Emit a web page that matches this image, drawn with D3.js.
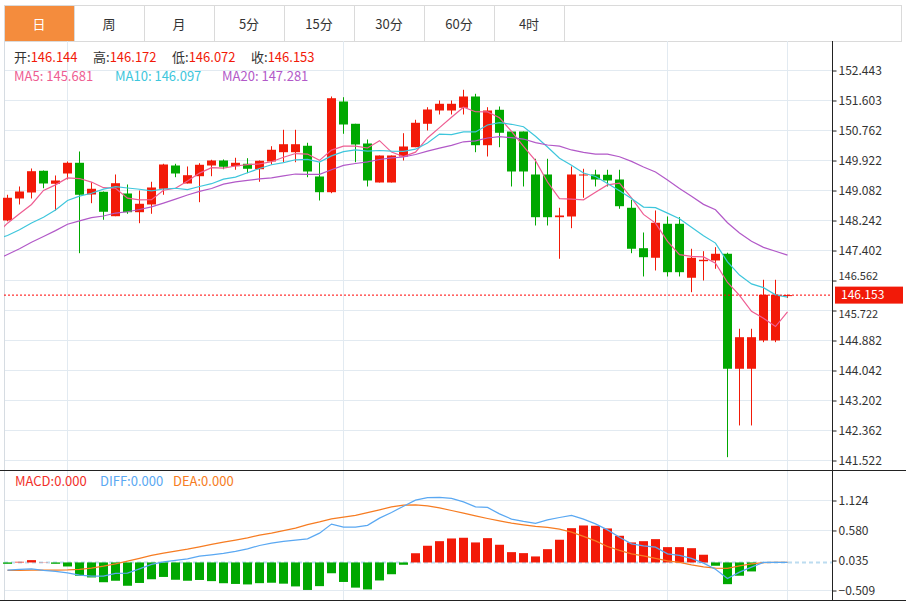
<!DOCTYPE html>
<html>
<head>
<meta charset="utf-8">
<script src="https://cdn.jsdelivr.net/npm/d3@7"></script>
<style>
  body { margin: 0; background: #fff; }
  svg { display: block; font-family: "Noto Sans CJK SC", "Noto Sans", sans-serif; }
</style>
</head>
<body>
<div id="chart"></div>
<script>
var tabs = ["日", "周", "月", "5分", "15分", "30分", "60分", "4时"];

// closes before the visible window (only feed the moving averages at the left edge)
var priorCloses = [145.70, 145.85, 145.95, 146.05, 146.12, 146.25, 147.10, 147.35, 147.55, 147.62,
                   147.75, 147.45, 147.72, 147.67, 147.36, 147.20, 147.74, 148.32, 147.32, 148.58];

var opens = [148.243, 148.859, 149.027, 149.635, 149.271, 149.559, 149.859, 148.971, 149.047, 148.363,
             148.999, 148.475, 148.691, 149.131, 149.783, 149.279, 149.483, 149.783, 149.923, 149.763,
             149.831, 149.679, 149.895, 150.155, 150.155, 150.335, 149.475, 149.035, 151.575, 150.951,
             150.399, 149.307, 149.307, 150.035, 150.295, 150.951, 151.323, 151.323, 151.399, 151.715,
             150.351, 151.343, 150.735, 150.735, 149.531, 149.531, 148.335, 148.355, 149.503, 149.531,
             149.523, 149.391, 148.599, 147.467, 147.199, 148.151, 148.151, 146.639, 147.103, 147.123,
             147.311, 144.091, 144.091, 144.883, 144.883, 146.144];
var highs = [148.963, 149.195, 149.699, 149.643, 149.503, 149.895, 150.175, 149.315, 149.055, 149.531,
             149.251, 149.083, 149.327, 149.831, 149.831, 149.755, 149.847, 149.943, 149.951, 149.999,
             149.987, 149.923, 150.323, 150.783, 150.783, 150.419, 149.875, 151.715, 151.695, 150.951,
             150.511, 150.063, 150.063, 150.687, 151.063, 151.415, 151.603, 151.603, 151.903, 151.791,
             151.415, 151.435, 150.735, 150.735, 149.971, 149.971, 148.599, 149.755, 149.691, 149.663,
             149.663, 149.663, 148.823, 147.907, 148.523, 148.355, 148.335, 147.451, 147.383, 147.495,
             147.340, 145.211, 145.211, 146.583, 146.583, 146.172];
var lows = [148.220, 148.691, 148.859, 149.147, 148.523, 149.391, 147.327, 148.727, 148.263, 148.363,
            148.431, 148.167, 148.431, 148.963, 149.455, 149.279, 148.755, 149.483, 149.679, 149.663,
            149.567, 149.327, 149.811, 149.875, 149.875, 149.455, 148.803, 149.007, 150.671, 149.875,
            149.195, 149.307, 149.307, 149.923, 150.295, 150.763, 151.211, 151.211, 151.211, 150.155,
            150.035, 150.295, 149.195, 149.195, 148.103, 148.103, 147.171, 148.027, 148.879, 149.195,
            149.195, 148.571, 147.327, 146.675, 146.843, 146.675, 146.675, 146.235, 146.563, 146.891,
            141.615, 142.503, 142.503, 144.835, 144.835, 146.072];
var closes = [148.879, 149.055, 149.623, 149.279, 149.363, 149.859, 148.963, 149.131, 148.487, 149.287,
              148.475, 148.711, 149.167, 149.811, 149.559, 149.511, 149.803, 149.923, 149.747, 149.859,
              149.691, 149.915, 150.223, 150.379, 150.379, 149.615, 149.035, 151.667, 150.931, 150.371,
              149.363, 150.063, 150.063, 150.315, 150.979, 151.351, 151.511, 151.511, 151.715, 150.351,
              151.323, 150.699, 149.615, 149.615, 148.335, 148.335, 148.383, 149.531, 149.531, 149.391,
              149.363, 148.643, 147.451, 147.215, 148.179, 146.795, 146.795, 147.199, 147.143, 147.311,
              144.091, 144.975, 144.975, 146.163, 146.163, 146.153];

var diff = [-0.140, -0.127, -0.116, -0.145, -0.163, -0.189, -0.230, -0.249, -0.249, -0.200,
            -0.194, -0.116, -0.036, 0.011, 0.036, 0.065, 0.114, 0.138, 0.163, 0.200,
            0.247, 0.308, 0.350, 0.381, 0.405, 0.428, 0.532, 0.695, 0.640, 0.640,
            0.673, 0.804, 0.907, 1.021, 1.130, 1.176, 1.181, 1.161, 1.099, 1.009,
            0.998, 0.882, 0.786, 0.744, 0.708, 0.773, 0.816, 0.853, 0.786, 0.700,
            0.591, 0.459, 0.337, 0.301, 0.278, 0.156, 0.127, 0.073, -0.013, -0.122,
            -0.290, -0.176, -0.085, 0, 0, 0];
var dea = [-0.145, -0.143, -0.140, -0.140, -0.140, -0.136, -0.127, -0.103, -0.067, -0.025,
           0.024, 0.073, 0.127, 0.169, 0.205, 0.241, 0.283, 0.327, 0.368, 0.405,
           0.446, 0.495, 0.532, 0.577, 0.622, 0.686, 0.735, 0.791, 0.822, 0.853,
           0.904, 0.954, 1.009, 1.040, 1.045, 1.025, 0.991, 0.943, 0.894, 0.845,
           0.798, 0.755, 0.713, 0.682, 0.653, 0.635, 0.604, 0.550, 0.472, 0.392,
           0.290, 0.218, 0.156, 0.120, 0.073, 0.029, 0, -0.044, -0.080, -0.103,
           -0.109, -0.062, -0.025, -0.004, 0, 0];
var macd = [-0.024, 0.012, 0.042, 0.004, -0.024, -0.073, -0.241, -0.272, -0.359, -0.332,
            -0.423, -0.372, -0.305, -0.263, -0.314, -0.332, -0.318, -0.339, -0.377, -0.390,
            -0.399, -0.376, -0.368, -0.385, -0.435, -0.499, -0.430, -0.196, -0.354, -0.457,
            -0.490, -0.327, -0.214, -0.042, 0.167, 0.303, 0.386, 0.435, 0.448, 0.363,
            0.441, 0.321, 0.187, 0.169, 0.109, 0.241, 0.412, 0.622, 0.671, 0.666,
            0.617, 0.484, 0.363, 0.386, 0.423, 0.278, 0.278, 0.259, 0.140, -0.060,
            -0.394, -0.241, -0.163, 0, 0, 0];

var priceTicks = [152.443, 151.603, 150.762, 149.922, 149.082, 148.242, 147.402,
                  146.562, 145.722, 144.882, 144.042, 143.202, 142.362, 141.522];
var macdTicks = [1.124, 0.580, 0.035, -0.509];
var gridIdx = [5, 28, 55, 65];
var maPeriods = [5, 10, 20];
var maLegend = ["145.681", "146.097", "147.281"];
var macdLegend = ["0.000", "0.000", "0.000"];

var W = 906, H = 602;
var plotL = 4, plotR = 833, plotT = 41, split = 470, plotB = 600;
var RED = "#f21a08", GREEN = "#00a800", GRID = "#e2eaf1";
var maColors = ["#ee5d92", "#3ec6dc", "#b259c8"];
var f3 = d3.format(".3f");
var n = closes.length;

var svg = d3.select("#chart").append("svg")
    .attr("width", W)
    .attr("height", H);

// tab bar
var tab = svg.append("g");
tab.selectAll("rect").data(tabs).enter().append("rect")
    .attr("x", function (d, i) { return 4.5 + i * 70; })
    .attr("y", 5.5)
    .attr("width", 70)
    .attr("height", 36)
    .attr("fill", function (d, i) { return i == 0 ? "#f48c3d" : "#fff"; })
    .attr("stroke", "#dadada");
tab.append("rect")
    .attr("x", 4.5).attr("y", 5.5).attr("width", 897).attr("height", 36)
    .attr("fill", "none").attr("stroke", "#dadada");
tab.selectAll("text").data(tabs).enter().append("text")
    .attr("x", function (d, i) { return 4 + i * 70 + 35; })
    .attr("y", 28.5)
    .attr("text-anchor", "middle")
    .attr("font-size", 13)
    .attr("fill", function (d, i) { return i == 0 ? "#fff" : "#333"; })
    .text(function (d) { return d; });

var x = d3.scaleLinear().domain([0, n - 1]).range([7.5, 787.5]);
var y = d3.scaleLinear().domain([141.522, 152.443]).range([460.5, 70.5]);
var yM = d3.scaleLinear().domain([-0.509, 1.124]).range([590.5, 500.5]);
var bw = 9;

function crisp(v) { return Math.round(v - 0.5) + 0.5; }

// grids
var grid = svg.append("g").attr("stroke", GRID).attr("stroke-width", 1);
priceTicks.forEach(function (t) {
  grid.append("line").attr("x1", plotL).attr("x2", plotR)
      .attr("y1", crisp(y(t))).attr("y2", crisp(y(t)));
});
macdTicks.forEach(function (t) {
  if (t == 0.035) return;
  grid.append("line").attr("x1", plotL).attr("x2", plotR)
      .attr("y1", crisp(yM(t))).attr("y2", crisp(yM(t)));
});
gridIdx.forEach(function (i) {
  grid.append("line").attr("x1", x(i)).attr("x2", x(i))
      .attr("y1", plotT).attr("y2", plotB);
});
svg.append("line").attr("x1", 4.5).attr("x2", 4.5).attr("y1", plotT).attr("y2", plotB)
    .attr("stroke", "#d6dce2");

svg.append("defs").append("clipPath").attr("id", "plot")
  .append("rect").attr("x", plotL).attr("y", plotT)
  .attr("width", plotR - plotL).attr("height", split - plotT);

// candles
var candle = svg.append("g").selectAll("g").data(closes).enter().append("g")
    .attr("fill", function (d, i) { return d >= opens[i] ? RED : GREEN; })
    .attr("stroke", function (d, i) { return d >= opens[i] ? RED : GREEN; });
candle.append("line")
    .attr("x1", function (d, i) { return x(i); })
    .attr("x2", function (d, i) { return x(i); })
    .attr("y1", function (d, i) { return y(highs[i]); })
    .attr("y2", function (d, i) { return y(lows[i]); });
candle.append("rect")
    .attr("stroke", "none")
    .attr("x", function (d, i) { return x(i) - bw / 2; })
    .attr("width", bw)
    .attr("y", function (d, i) { return y(Math.max(d, opens[i])); })
    .attr("height", function (d, i) { return Math.max(1, Math.abs(y(d) - y(opens[i]))); });

// moving averages
var all = priorCloses.concat(closes);
var off = priorCloses.length;
var maLine = d3.line().x(function (d) { return x(d.i); }).y(function (d) { return y(d.v); });
maPeriods.forEach(function (p, k) {
  var pts = d3.range(-1, n).map(function (i) {
    var e = i + off + 1;
    return { i: i, v: d3.mean(all.slice(e - p, e)) };
  });
  svg.append("path").datum(pts)
      .attr("clip-path", "url(#plot)")
      .attr("fill", "none")
      .attr("stroke", maColors[k])
      .attr("stroke-width", 1.2)
      .attr("d", maLine);
});

// current price line
var last = closes[n - 1];
svg.append("line")
    .attr("x1", plotL).attr("x2", plotR)
    .attr("y1", y(last)).attr("y2", y(last))
    .attr("stroke", "#f00").attr("stroke-dasharray", "2,2");

// MACD panel
svg.append("line").attr("x1", plotL).attr("x2", plotR)
    .attr("y1", yM(0)).attr("y2", yM(0))
    .attr("stroke", "#bcdcf0").attr("stroke-width", 2).attr("stroke-dasharray", "4,3");
svg.append("g").selectAll("rect").data(macd).enter().append("rect")
    .attr("x", function (d, i) { return x(i) - bw / 2; })
    .attr("width", bw)
    .attr("y", function (d) { return d >= 0 ? yM(d) : yM(0); })
    .attr("height", function (d) { return Math.abs(yM(d) - yM(0)); })
    .attr("fill", function (d) { return d >= 0 ? RED : GREEN; });
var lineM = d3.line().x(function (d, i) { return x(i); }).y(function (d) { return yM(d); });
svg.append("path").datum(dea).attr("fill", "none").attr("stroke", "#f67c22")
    .attr("stroke-width", 1.2).attr("d", lineM);
svg.append("path").datum(diff).attr("fill", "none").attr("stroke", "#5aa8f2")
    .attr("stroke-width", 1.2).attr("d", lineM);

// frame lines
svg.append("line").attr("x1", 0).attr("x2", W).attr("y1", 470.5).attr("y2", 470.5).attr("stroke", "#222");
svg.append("line").attr("x1", 0).attr("x2", W).attr("y1", 600.5).attr("y2", 600.5).attr("stroke", "#222");
svg.append("line").attr("x1", 832.5).attr("x2", 832.5).attr("y1", plotT).attr("y2", plotB).attr("stroke", "#222");

// axes
var axP = svg.append("g").attr("transform", "translate(832.5,0)")
    .call(d3.axisRight(y).tickValues(priceTicks).tickSize(4).tickFormat(f3));
var axM = svg.append("g").attr("transform", "translate(832.5,0)")
    .call(d3.axisRight(yM).tickValues(macdTicks).tickSize(4).tickFormat(f3));
[axP, axM].forEach(function (a) {
  a.select(".domain").remove();
  a.selectAll("line").attr("stroke", "#222");
  a.selectAll("text").attr("font-size", 12).attr("fill", "#333").attr("x", 6)
      .attr("font-family", "'Noto Sans CJK SC', sans-serif");
});

// last price tag; the two labels next to it are nudged so they stay readable
var last_y = y(last);
axP.selectAll(".tick").filter(function (d) { return Math.abs(y(d) - last_y) < 18; })
    .select("text")
    .attr("font-size", 11)
    .attr("dy", function (d) { return y(d) < last_y ? "-0.05em" : "0.6em"; });
var tag = svg.append("g").attr("transform", "translate(835," + last_y + ")");
tag.append("rect").attr("x", 0).attr("y", -8.5).attr("width", 68).attr("height", 17).attr("fill", "#f21a08");
tag.append("text").attr("x", 6).attr("y", 4).attr("font-size", 12).attr("fill", "#fff").text(f3(last));

// legends
var ohlc = [["开", opens[n - 1], 14], ["高", highs[n - 1], 93], ["低", lows[n - 1], 172], ["收", closes[n - 1], 251]];
ohlc.forEach(function (d) {
  var t = svg.append("text").attr("x", d[2]).attr("y", 62).attr("font-size", 13);
  t.append("tspan").attr("fill", "#333").text(d[0] + ":");
  t.append("tspan").attr("fill", "#f21a08").text(f3(d[1]));
});
var maX = [14, 115, 222];
maPeriods.forEach(function (p, k) {
  svg.append("text").attr("x", maX[k]).attr("y", 81).attr("font-size", 13)
      .attr("fill", maColors[k]).text("MA" + p + ": " + maLegend[k]);
});
var mNames = ["MACD", "DIFF", "DEA"], mColors = ["#f2302a", "#5aa8f2", "#f67c22"], mX = [15, 100, 173];
mNames.forEach(function (nm, k) {
  svg.append("text").attr("x", mX[k]).attr("y", 486).attr("font-size", 13)
      .attr("fill", mColors[k]).text(nm + ":" + macdLegend[k]);
});
</script>
</body>
</html>
